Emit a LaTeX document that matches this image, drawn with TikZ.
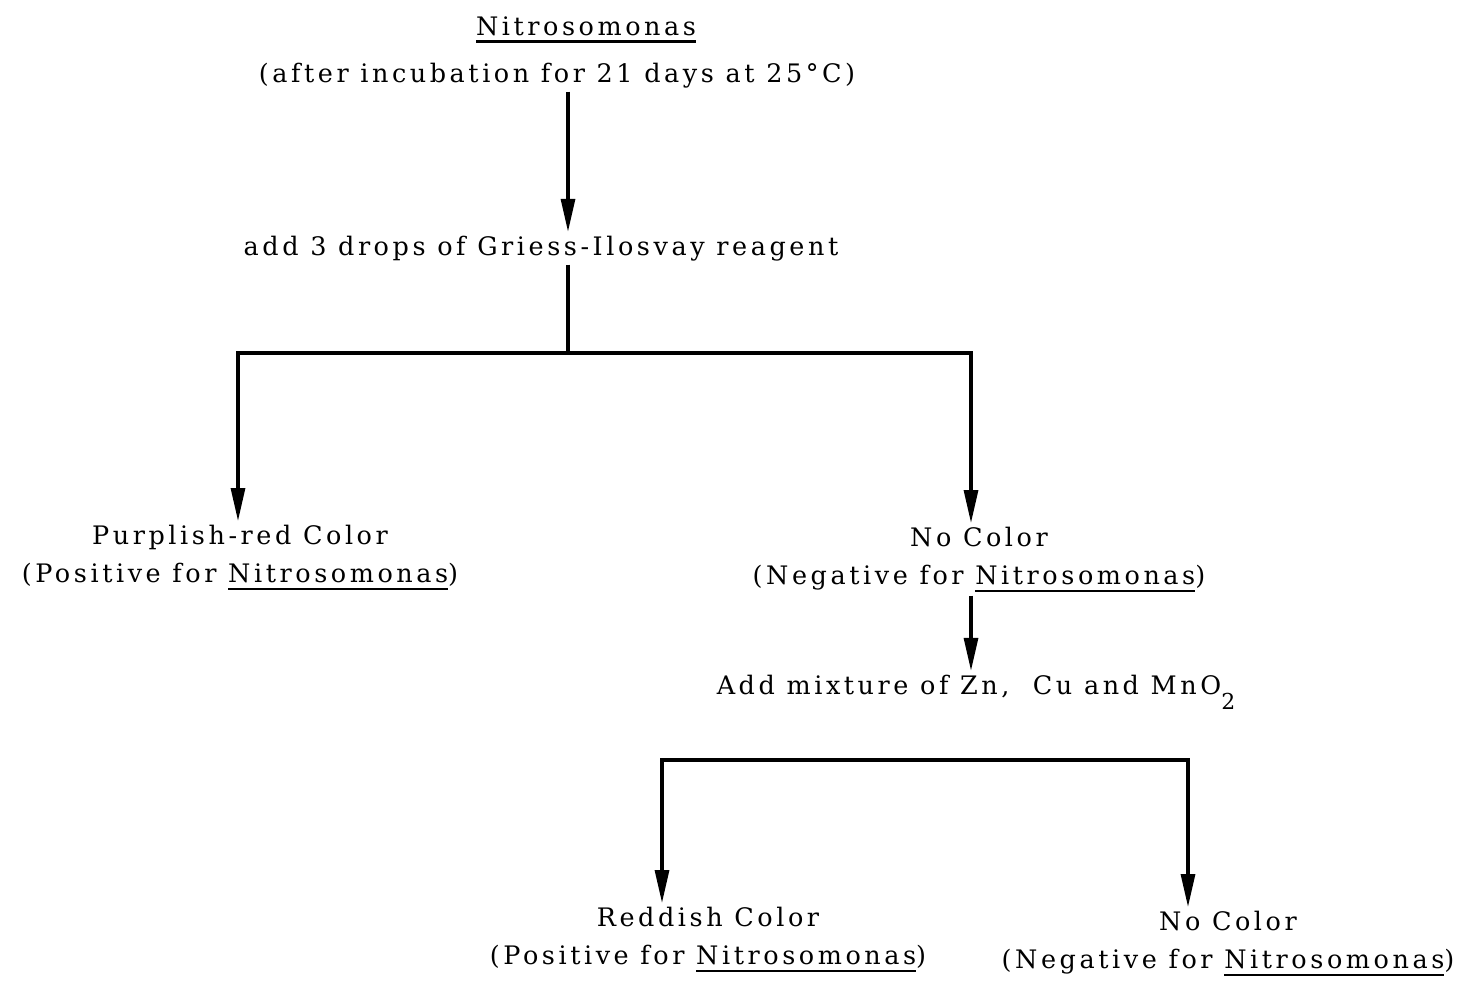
\documentclass[tikz,border=0pt]{standalone}
\usepackage{fontspec}
\setmainfont{DejaVu Serif}
\usetikzlibrary{arrows.meta}

% underlined genus name
\newcommand{\ulgenus}[1]{\setbox0=\hbox{#1}\rlap{\rule[-0.3em]{\wd0}{0.09em}}\box0}
% lowered subscript
\newcommand{\lowsub}[1]{\raisebox{-0.62em}{\fontsize{12.5}{12.5}\selectfont #1}}

\tikzset{
    flowtext/.style={font=\fontsize{14.5}{21.6}\selectfont\addfontfeatures{LetterSpace=14}, inner sep=2pt, align=center},
    flow/.style={line width=1.8pt},
    flowarrow/.style={flow, -{Triangle[length=0.66cm, width=0.28cm]}}
}

\begin{document}
\begin{tikzpicture}[x=0.02cm, y=-0.02cm]
    \useasboundingbox (0,0) rectangle (1468,985);

    % Title
    \node[flowtext, anchor=base] (title) at (586,35) {\ulgenus{Nitrosomonas}};
    \node[flowtext, anchor=base] (cond) at (557,82) {(after incubation for 21 days at 25°C)};

    % Reagent step
    \node[flowtext, anchor=base] (griess) at (541,255) {add 3 drops of Griess-Ilosvay reagent};

    % Branch points
    \coordinate (jm) at (568,353);
    \coordinate (jl) at (238,353);
    \coordinate (jr) at (971,353);
    \coordinate (kl) at (662,760);
    \coordinate (kr) at (1188,760);

    % First outcomes
    \node[flowtext, anchor=north] (purple) at (240,521) {Purplish-red Color\\(Positive for \ulgenus{Nitrosomonas})};
    \node[flowtext, anchor=north] (nocolor) at (979,523) {No Color\\(Negative for \ulgenus{Nitrosomonas})};

    % Second step
    \node[flowtext, anchor=base] (addmix) at (976,694) {Add mixture of Zn,~ Cu and MnO\lowsub{2}};

    % Second outcomes
    \node[flowtext, anchor=north] (reddish) at (708,903) {Reddish Color\\(Positive for \ulgenus{Nitrosomonas})};
    \node[flowtext, anchor=north] (nocolorb) at (1228,907) {No Color\\(Negative for \ulgenus{Nitrosomonas})};

    % Connectors
    \draw[flowarrow] (cond.south -| jm) -- (griess.north -| jm);
    \draw[flow] (griess.south -| jm) -- (jm);
    \draw[flowarrow] (jm) -| (purple.north -| jl);
    \draw[flowarrow] (jm) -| (nocolor.north -| jr);
    \draw[flowarrow] (nocolor.south -| jr) -- (addmix.north -| jr);
    \draw[flowarrow] (kr) -| (reddish.north -| kl);
    \draw[flowarrow] (kl) -| (nocolorb.north -| kr);
\end{tikzpicture}
\end{document}
